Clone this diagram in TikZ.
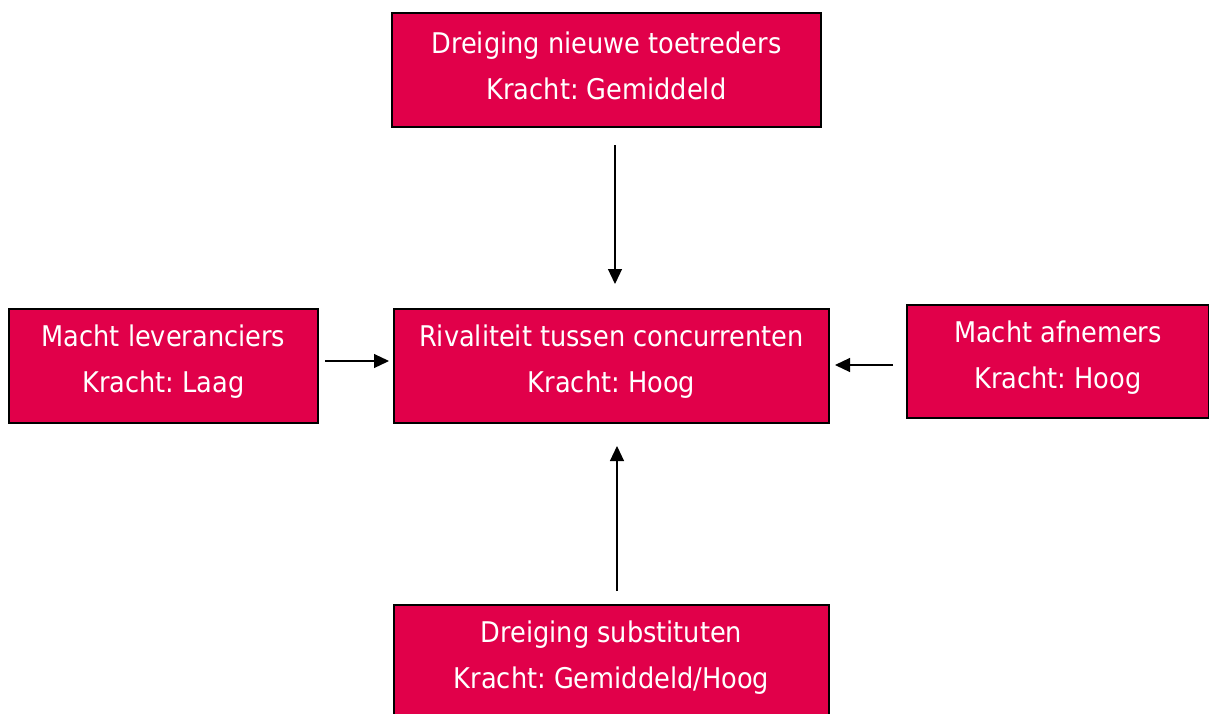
\documentclass[tikz,border=0pt]{standalone}
\usepackage{fontspec}
\setmainfont{DejaVu Sans Condensed}
\frenchspacing
\usetikzlibrary{arrows.meta}
\definecolor{boxred}{HTML}{E1004A}
\begin{document}
\begin{tikzpicture}[x=1pt,y=-1pt,
  forcebox/.style={draw=black,line width=1.8pt,fill=boxred,
    minimum width=#1,minimum height=114pt,inner sep=0pt},
  boxtext/.style={text=white,align=center,inner sep=0pt,
    font=\fontsize{28.5}{46}\selectfont},
  conn/.style={draw=black,line width=1.2pt,-{Triangle[length=15pt,width=14pt]}}]
\useasboundingbox (0,0) rectangle (1209,713);
\node[forcebox=429pt] (top) at (606.5,70) {};
\node[forcebox=309pt] (left) at (163.5,366) {};
\node[forcebox=435pt] (mid) at (611.5,366) {};
\node[forcebox=302pt,minimum height=113pt] (right) at (1058,361.5) {};
\node[forcebox=435pt] (bot) at (611.5,662) {};
\node[boxtext] (toptext) at ([yshift=4pt]top.center) {Dreiging nieuwe toetreders\\Kracht: Gemiddeld};
\node[boxtext] (lefttext) at ([yshift=4pt]left.center) {Macht leveranciers\\Kracht: Laag};
\node[boxtext] (midtext) at ([yshift=4pt]mid.center) {Rivaliteit tussen concurrenten\\Kracht: Hoog};
\node[boxtext] (righttext) at ([yshift=4pt]right.center) {Macht afnemers\\Kracht: Hoog};
\node[boxtext] (bottext) at ([yshift=4pt]bot.center) {Dreiging substituten\\Kracht: Gemiddeld/Hoog};
\coordinate (t1) at (615,145); \coordinate (t2) at (615,284);
\coordinate (l1) at (325,361); \coordinate (l2) at (389,361);
\coordinate (r1) at (893,365); \coordinate (r2) at (835,365);
\coordinate (b1) at (617,591); \coordinate (b2) at (617,446);
\draw[conn] (t1) -- (t2);
\draw[conn] (l1) -- (l2);
\draw[conn] (r1) -- (r2);
\draw[conn] (b1) -- (b2);
\end{tikzpicture}
\end{document}
